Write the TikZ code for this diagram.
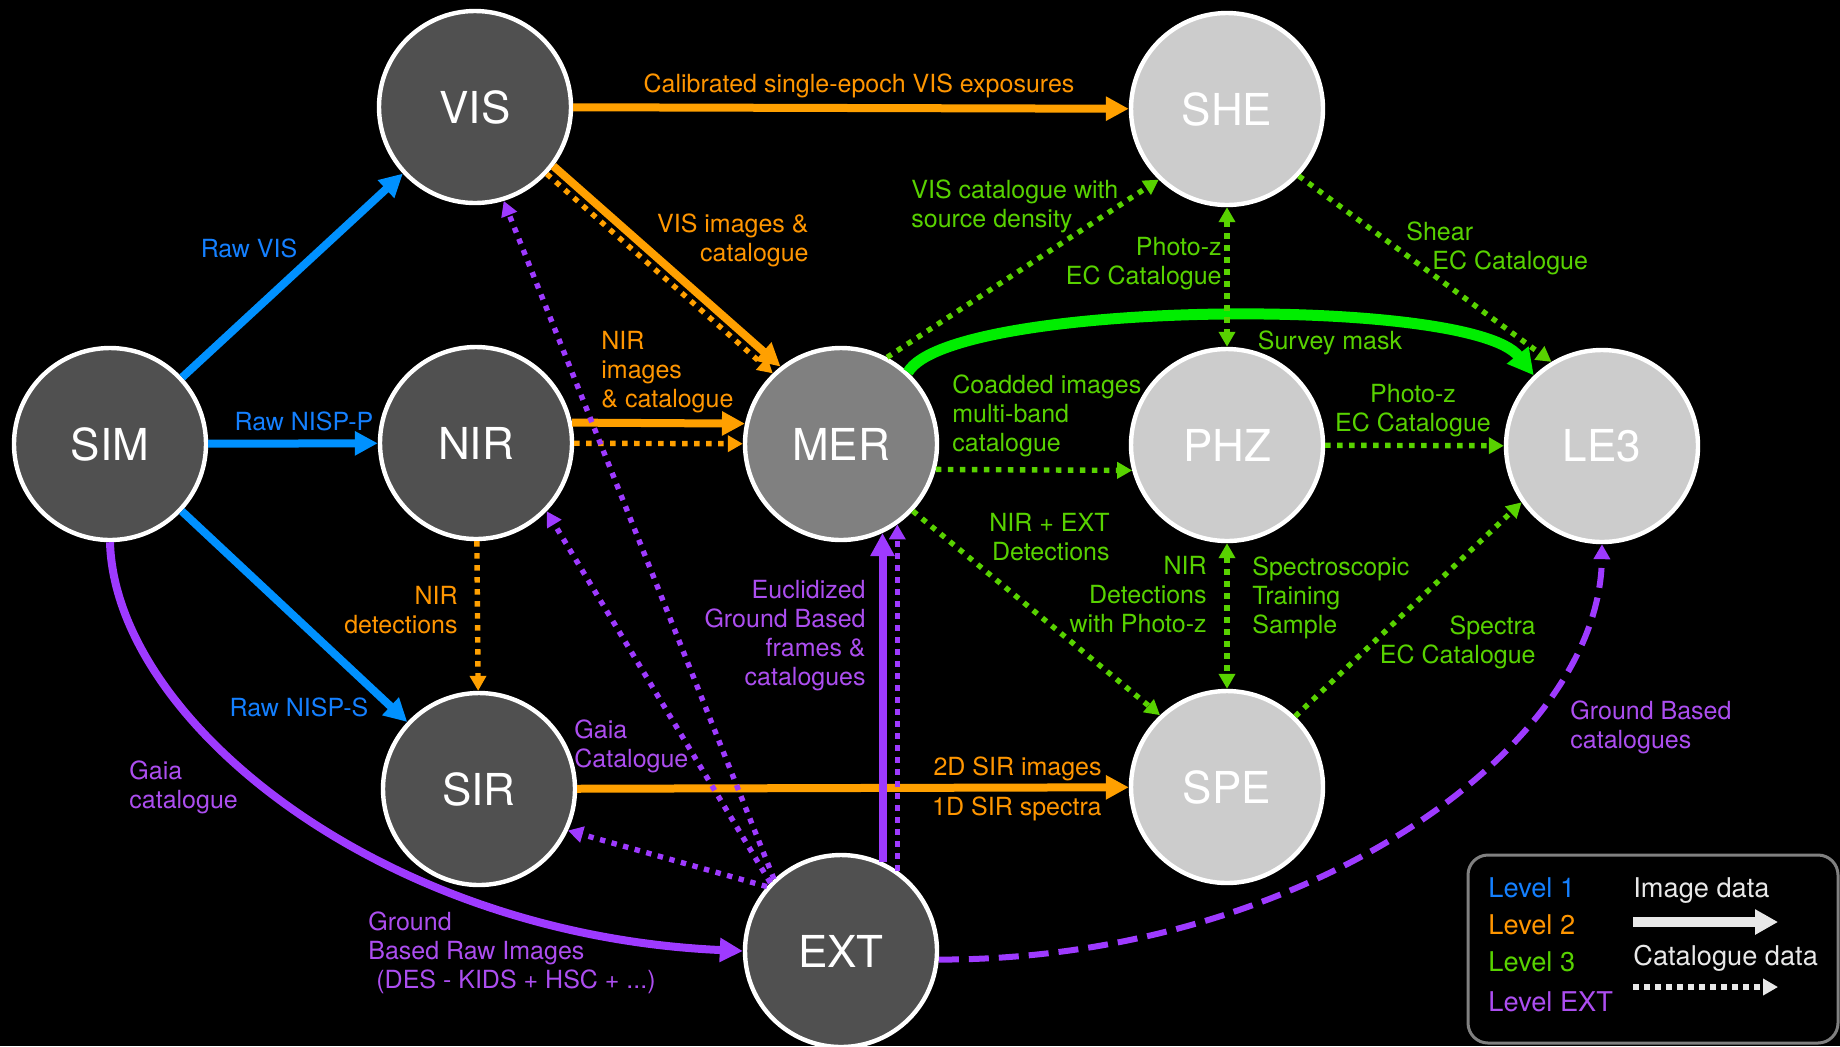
\documentclass[tikz,border=0pt]{standalone}
\usepackage{fontspec}
\setmainfont{TeX Gyre Heros}
\usetikzlibrary{arrows.meta}
\definecolor{LOneBlue}{RGB}{ 0, 145, 255 }
\definecolor{LOneText}{RGB}{ 20, 128, 255 }
\definecolor{LTwoOrange}{RGB}{ 255, 160, 0 }
\definecolor{LTwoText}{RGB}{ 255, 150, 0 }
\definecolor{LThreeGreen}{RGB}{ 88, 210, 0 }
\definecolor{MaskGreen}{RGB}{ 0, 238, 0 }
\definecolor{ExtPurple}{RGB}{ 158, 58, 255 }
\definecolor{ExtText}{RGB}{ 172, 78, 240 }
\definecolor{DGray}{HTML}{505050}
\definecolor{MGray}{HTML}{808080}
\definecolor{LGray}{HTML}{CCCCCC}
\definecolor{KeyWhite}{HTML}{E8E8E8}
\definecolor{BoxGray}{HTML}{808080}
\tikzset{
    stage/.style={circle, draw=white, line width=2.2pt, minimum size=96pt, inner sep=0pt,
        text=white, font=\fontsize{22}{26}\selectfont},
    lowlevel/.style={stage, fill=DGray},
    midlevel/.style={stage, fill=MGray},
    highlevel/.style={stage, fill=LGray},
    imagedata/.style={line width=4pt, -{Triangle[length=11.5pt, width=11.5pt]}},
    catdata/.style={line width=2.7pt, dash pattern=on 2.7pt off 3.3pt, -{Triangle[length=7.5pt, width=8pt]}},
    twoway/.style={catdata, {Triangle[length=7.5pt, width=8pt]}-{Triangle[length=7.5pt, width=8pt]}},
    flowlabel/.style={font=\fontsize{12.5}{14.5}\selectfont, inner sep=0pt},
    keylabel/.style={font=\fontsize{13.6}{16}\selectfont, inner sep=0pt, anchor=west},
}

\begin{document}
\begin{tikzpicture}[x=0.5pt, y=-0.5pt]
\useasboundingbox (0,0) rectangle (1840,1046);
\fill[black] (0,0) rectangle (1840,1046);

% processing functions
\node[lowlevel] (SIM) at (110,444) {SIM};
\node[lowlevel] (VIS) at (475,107) {VIS};
\node[lowlevel] (NIR) at (476,443) {NIR};
\node[lowlevel] (SIR) at (479,789) {SIR};
\node[lowlevel] (EXT) at (841,951) {EXT};
\node[midlevel] (MER) at (841,444) {MER};
\node[highlevel] (SHE) at (1227,109) {SHE};
\node[highlevel] (PHZ) at (1227,445) {PHZ};
\node[highlevel] (SPE) at (1227,787) {SPE};
\node[highlevel] (LE3) at (1602,446) {LE3};

% level 1
\draw[imagedata, LOneBlue] (SIM) -- (VIS);
\draw[imagedata, LOneBlue] (SIM) -- (NIR);
\draw[imagedata, LOneBlue] (SIM) -- (SIR);
\node[flowlabel, text=LOneText] (rawvis) at (249,248) {Raw VIS};
\node[flowlabel, text=LOneText] (rawnispp) at (304,421) {Raw NISP-P};
\node[flowlabel, text=LOneText] (rawnisps) at (299,707) {Raw NISP-S};

% level 2
\draw[imagedata, LTwoOrange] (VIS) -- (SHE);
\draw[imagedata, LTwoOrange] (VIS.-37) -- (MER.128);
\draw[catdata, LTwoOrange] (VIS.-43) -- (MER.134);
\draw[imagedata, LTwoOrange] (NIR.12) -- (MER.168);
\draw[catdata, LTwoOrange] (NIR) -- (MER);
\draw[catdata, LTwoOrange] (NIR) -- (SIR);
\draw[imagedata, LTwoOrange] (SIR) -- (SPE);
\node[flowlabel, text=LTwoText] (calib) at (859,86) {Calibrated single-epoch VIS exposures};
\node[flowlabel, text=LTwoText, anchor=north east, align=right] (visimg) at (809,213) {VIS images \&\\catalogue};
\node[flowlabel, text=LTwoText, anchor=north west, align=left] (nirimg) at (601,331) {NIR\\images\\\& catalogue};
\node[flowlabel, text=LTwoText, anchor=north east, align=right] (nirdet) at (458,586) {NIR\\detections};
\node[flowlabel, text=LTwoText, anchor=east] (sirimg) at (1102,769) {2D SIR images};
\node[flowlabel, text=LTwoText, anchor=east] (sirspec) at (1102,809) {1D SIR spectra};

% level 3
\draw[catdata, LThreeGreen] (MER.62) -- (SHE.-134);
\draw[line width=5.5pt, MaskGreen, -{Triangle[length=13pt, width=13pt]}]
    (MER.47) .. controls (950,300) and (1470,295) .. (LE3.134);
\draw[catdata, LThreeGreen] (MER.-15) -- (PHZ.-165);
\draw[catdata, LThreeGreen] (MER.-43) -- (SPE.133);
\draw[twoway, LThreeGreen] (SHE) -- (PHZ);
\draw[catdata, LThreeGreen] (SHE.-43) -- (LE3.121);
\draw[catdata, LThreeGreen] (PHZ) -- (LE3);
\draw[twoway, LThreeGreen] (PHZ) -- (SPE);
\draw[catdata, LThreeGreen] (SPE.46) -- (LE3.-145);
\node[flowlabel, text=LThreeGreen, anchor=north west, align=left] (viscat) at (911,179) {VIS catalogue with\\source density};
\node[flowlabel, text=LThreeGreen, anchor=north east, align=right] (phzshe) at (1222,237) {Photo-z\\EC Catalogue};
\node[flowlabel, text=LThreeGreen, anchor=north west, align=left] (shear) at (1406,221) {Shear\\\hspace*{13pt}EC Catalogue};
\node[flowlabel, text=LThreeGreen] (mask) at (1330,343) {Survey mask};
\node[flowlabel, text=LThreeGreen, anchor=north west, align=left] (coadd) at (952,374) {Coadded images\\multi-band\\catalogue};
\node[flowlabel, text=LThreeGreen, anchor=north, align=center] (phzle3) at (1413,384) {Photo-z\\EC Catalogue};
\node[flowlabel, text=LThreeGreen, anchor=north east, align=right] (nirext) at (1110,513) {NIR + EXT\\Detections};
\node[flowlabel, text=LThreeGreen, anchor=north east, align=right] (nirphz) at (1207,556) {NIR\\Detections\\with Photo-z};
\node[flowlabel, text=LThreeGreen, anchor=north west, align=left] (spectro) at (1252,556) {Spectroscopic\\Training\\Sample};
\node[flowlabel, text=LThreeGreen, anchor=north east, align=right] (spectra) at (1536,615) {Spectra\\EC Catalogue};

% external data
\draw[imagedata, ExtPurple] (SIM.south) .. controls (115,720) and (380,935) .. (EXT.west);
\draw[imagedata, ExtPurple] (EXT.65) -- (MER.-65);
\draw[catdata, ExtPurple] (EXT.55) -- (MER.-55);
\draw[catdata, ExtPurple] (EXT.133) -- (VIS.-73);
\draw[catdata, ExtPurple] (EXT.136) -- (NIR.-44);
\draw[catdata, ExtPurple] (EXT.139) -- (SIR.-25);
\draw[ExtPurple, line width=3pt, dash pattern=on 10pt off 5pt, -{Triangle[length=7.5pt, width=8pt]}]
    (EXT.-5) .. controls (1300,960) and (1600,750) .. (LE3.south);
\node[flowlabel, text=ExtText, anchor=north west, align=left] (gaiasim) at (129,760) {Gaia\\catalogue};
\node[flowlabel, text=ExtText, anchor=north west, align=left] (gbraw) at (368,911) {Ground\\Based Raw Images\\\hspace*{4pt}(DES - KIDS + HSC + ...)};
\node[flowlabel, text=ExtText, anchor=north west, align=left] (gaiasir) at (574,719) {Gaia\\Catalogue};
\node[flowlabel, text=ExtText, anchor=north east, align=right] (euclid) at (866,580) {Euclidized\\Ground Based\\frames \&\\catalogues};
\node[flowlabel, text=ExtText, anchor=north west, align=left] (gbcat) at (1570,700) {Ground Based\\catalogues};

% legend
\node[draw=BoxGray, line width=1.5pt, rounded corners=10pt, minimum width=185pt, minimum height=94pt] (legend) at (1653,949) {};
\node[keylabel, text=LOneText] (lvlone) at (1488,888) {Level 1};
\node[keylabel, text=LTwoText] (lvltwo) at (1488,925) {Level 2};
\node[keylabel, text=LThreeGreen] (lvlthree) at (1488,962) {Level 3};
\node[keylabel, text=ExtText] (lvlext) at (1488,1002) {Level EXT};
\node[keylabel, text=KeyWhite] (imgkey) at (1633,891) {Image data};
\node[keylabel, text=KeyWhite] (catkey) at (1633,958) {Catalogue data};
\coordinate (imgA) at (1633,922);
\coordinate (imgB) at (1778,922);
\coordinate (catA) at (1633,987);
\coordinate (catB) at (1778,987);
\draw[KeyWhite, line width=5pt, -{Triangle[length=11.5pt, width=12pt]}] (imgA) -- (imgB);
\draw[KeyWhite, line width=3.3pt, dash pattern=on 3pt off 2.5pt, -{Triangle[length=7.5pt, width=8pt]}] (catA) -- (catB);
\end{tikzpicture}
\end{document}
